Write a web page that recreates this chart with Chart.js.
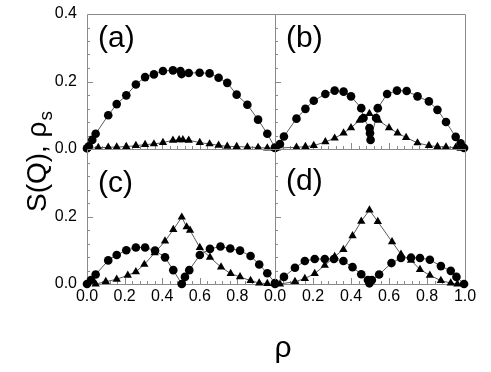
<!DOCTYPE html>
<html lang="en">
<head>
<meta charset="UTF-8">
<title>S(Q) and rho_s versus rho</title>
<script src="https://cdn.jsdelivr.net/npm/chart.js"></script>
<style>
  html, body { margin: 0; padding: 0; background: #fff; }
  #wrap { position: relative; width: 491px; height: 372px; }
  #wrap canvas { position: absolute; left: 0; top: 0; }
</style>
</head>
<body>
<div id="wrap">
  <canvas id="panelA" width="491" height="372"></canvas>
  <canvas id="panelB" width="491" height="372"></canvas>
  <canvas id="panelC" width="491" height="372"></canvas>
  <canvas id="panelD" width="491" height="372"></canvas>
</div>
<script>
// ---- data ----
// panel (a)
var aRhoC = [0, 0.01, 0.028, 0.046, 0.113, 0.158, 0.209, 0.26, 0.309, 0.356, 0.404, 0.457, 0.497, 0.503, 0.541, 0.599, 0.652, 0.70, 0.746, 0.796, 0.853, 0.91, 0.959, 1.0];
var aSQ   = [0.002, 0.008, 0.027, 0.045, 0.10, 0.133, 0.159, 0.191, 0.213, 0.221, 0.231, 0.233, 0.231, 0.222, 0.225, 0.226, 0.224, 0.211, 0.196, 0.161, 0.131, 0.087, 0.045, 0.004];
var aRhoT = [0, 0.06, 0.113, 0.158, 0.209, 0.26, 0.309, 0.356, 0.404, 0.457, 0.49, 0.51, 0.541, 0.6, 0.652, 0.70, 0.746, 0.796, 0.853, 0.91, 0.959, 1.0];
var aRs   = [0.002, 0.004, 0.005, 0.006, 0.007, 0.01, 0.013, 0.015, 0.019, 0.026, 0.027, 0.027, 0.026, 0.019, 0.015, 0.011, 0.008, 0.007, 0.006, 0.004, 0.003, 0.002];
// panel (b)
var bRhoC = [0, 0.026, 0.047, 0.113, 0.16, 0.204, 0.265, 0.314, 0.361, 0.40, 0.454, 0.466, 0.497, 0.5, 0.503, 0.532, 0.541, 0.59, 0.642, 0.693, 0.75, 0.81, 0.855, 0.90, 0.951, 0.977, 0.995];
var bSQ   = [0.003, 0.015, 0.037, 0.09, 0.119, 0.143, 0.163, 0.173, 0.17, 0.156, 0.121, 0.092, 0.062, 0.047, 0.027, 0.092, 0.121, 0.163, 0.173, 0.172, 0.156, 0.141, 0.116, 0.08, 0.036, 0.017, 0.003];
var bRhoT = [0.009, 0.113, 0.16, 0.204, 0.265, 0.314, 0.361, 0.40, 0.445, 0.497, 0.545, 0.60, 0.645, 0.69, 0.75, 0.81, 0.855, 0.90, 0.951, 0.977];
var bRs   = [0.003, 0.005, 0.007, 0.01, 0.021, 0.032, 0.047, 0.063, 0.085, 0.105, 0.085, 0.063, 0.047, 0.034, 0.018, 0.01, 0.007, 0.006, 0.004, 0.002];
// panel (c)
var cRhoC = [0, 0.021, 0.046, 0.113, 0.158, 0.209, 0.26, 0.309, 0.362, 0.415, 0.459, 0.504, 0.521, 0.544, 0.60, 0.654, 0.710, 0.762, 0.814, 0.87, 0.916, 0.959, 1.0];
var cSQ   = [0.0, 0.012, 0.028, 0.07, 0.086, 0.10, 0.108, 0.108, 0.099, 0.079, 0.041, 0.0, 0.021, 0.041, 0.086, 0.104, 0.111, 0.105, 0.099, 0.083, 0.058, 0.032, 0.003];
var cRhoT = [0.046, 0.10, 0.158, 0.217, 0.26, 0.305, 0.36, 0.415, 0.459, 0.504, 0.53, 0.548, 0.60, 0.654, 0.713, 0.764, 0.814, 0.87, 0.916, 0.959];
var cRs   = [0.0, 0.007, 0.014, 0.026, 0.036, 0.058, 0.092, 0.127, 0.161, 0.198, 0.169, 0.159, 0.108, 0.079, 0.05, 0.031, 0.021, 0.01, 0.003, 0.001];
// panel (d)
var dRhoC = [0, 0.047, 0.105, 0.157, 0.209, 0.262, 0.31, 0.36, 0.408, 0.454, 0.489, 0.497, 0.51, 0.548, 0.613, 0.663, 0.716, 0.763, 0.815, 0.873, 0.925, 0.955, 0.995];
var dSQ   = [0.0, 0.021, 0.048, 0.068, 0.074, 0.074, 0.074, 0.068, 0.05, 0.029, 0.012, 0.002, 0.012, 0.028, 0.062, 0.077, 0.078, 0.077, 0.072, 0.053, 0.039, 0.021, 0.0];
var dRhoT = [0.026, 0.105, 0.157, 0.209, 0.262, 0.314, 0.36, 0.408, 0.454, 0.497, 0.541, 0.616, 0.663, 0.716, 0.763, 0.815, 0.873, 0.925, 0.96];
var dRs   = [0.0, 0.007, 0.016, 0.031, 0.055, 0.081, 0.102, 0.143, 0.186, 0.219, 0.185, 0.125, 0.088, 0.07, 0.043, 0.026, 0.01, 0.003, 0.0];

// tick labels
var xTickLabels = ['0.0', '0.2', '0.4', '0.6', '0.8', '1.0'];
var yTickLabels = ['0.0', '0.2', '0.4'];

var FONT = "'Liberation Sans', Arial, Helvetica, sans-serif";
var MINOR = 0.04; // minor tick spacing on both axes

function pts(xs, ys) {
    return xs.map(function (x, i) { return { x: x, y: ys[i] }; });
}

// frame plus inward tick marks, drawn under the markers
var frameTicks = {
    id: 'frameTicks',
    beforeDatasetsDraw: function (chart) {
        var ctx = chart.ctx, a = chart.chartArea;
        var xs = chart.scales.x, ys = chart.scales.y;
        ctx.save();
        ctx.strokeStyle = '#8a8a8a';
        ctx.lineWidth = 1;
        ctx.beginPath();
        ctx.rect(Math.round(a.left) + 0.5, Math.round(a.top) + 0.5,
                 Math.round(a.right - a.left), Math.round(a.bottom - a.top));
        var i, p, len;
        var nx = Math.round((xs.max - xs.min) / MINOR), ny = Math.round((ys.max - ys.min) / MINOR);
        for (i = 1; i < nx; i++) {
            p = Math.round(xs.getPixelForValue(xs.min + i * MINOR)) + 0.5;
            len = (i % 5 === 0) ? 6 : 3;
            ctx.moveTo(p, Math.round(a.bottom));
            ctx.lineTo(p, Math.round(a.bottom) - len);
        }
        for (i = 1; i < ny; i++) {
            p = Math.round(ys.getPixelForValue(ys.min + i * MINOR)) + 0.5;
            len = (i % 5 === 0) ? 6 : 3;
            ctx.moveTo(Math.round(a.left), p);
            ctx.lineTo(Math.round(a.left) + len, p);
        }
        ctx.stroke();
        ctx.restore();
    }
};

// "(a)" .. "(d)" inside each panel
var panelTag = {
    id: 'panelTag',
    afterDraw: function (chart, args, opts) {
        if (!opts.text) return;
        var ctx = chart.ctx, a = chart.chartArea;
        ctx.save();
        ctx.fillStyle = '#000';
        ctx.font = '30px ' + FONT;
        ctx.textBaseline = 'alphabetic';
        ctx.fillText(opts.text, a.left + opts.dx, a.top + opts.dy);
        ctx.restore();
    }
};

// shared axis titles, drawn once
var axisTitles = {
    id: 'axisTitles',
    afterDraw: function (chart, args, opts) {
        if (!opts.on) return;
        var ctx = chart.ctx;
        ctx.save();
        ctx.fillStyle = '#000';
        ctx.textBaseline = 'alphabetic';
        ctx.save();
        ctx.translate(opts.yx, opts.yy);
        ctx.rotate(-Math.PI / 2);
        ctx.font = '28px ' + FONT;
        var main = 'S(Q), \u03c1';
        var w1 = ctx.measureText(main).width;
        ctx.font = '19px ' + FONT;
        var w2 = ctx.measureText('s').width;
        var x0 = -(w1 + w2) / 2;
        ctx.font = '28px ' + FONT;
        ctx.fillText(main, x0, 0);
        ctx.font = '19px ' + FONT;
        ctx.fillText('s', x0 + w1 + 1, 6);
        ctx.restore();
        ctx.font = '30px ' + FONT;
        ctx.textAlign = 'center';
        ctx.fillText('\u03c1', opts.xx, opts.xy);
        ctx.restore();
    }
};

function makePanel(id, area, o) {
    var yW = o.showY ? 60 : 0;
    var xH = o.showX ? 30 : 0;
    return new Chart(document.getElementById(id), {
        type: 'line',
        data: {
            datasets: [{
                label: 'S(Q)',
                data: pts(o.rc, o.sq),
                pointStyle: 'circle',
                pointRadius: 4.3,
                pointBorderWidth: 0,
                pointBackgroundColor: '#000',
                borderColor: '#5a5a5a',
                borderWidth: 1,
                clip: false
            }, {
                label: 'rho_s',
                data: pts(o.rt, o.rs),
                pointStyle: 'triangle',
                pointRadius: 4.8,
                pointBorderWidth: 0,
                pointBackgroundColor: '#000',
                borderColor: '#5a5a5a',
                borderWidth: 1,
                clip: false
            }]
        },
        options: {
            responsive: false,
            animation: false,
            events: [],
            layout: {
                padding: {
                    left: area.x0 - yW,
                    right: 491 - area.x1,
                    top: area.y0,
                    bottom: 372 - area.y1 - xH
                }
            },
            plugins: {
                legend: { display: false },
                tooltip: { enabled: false },
                panelTag: { text: o.tag, dx: 11, dy: o.tagDy },
                axisTitles: { on: !!o.titles, yx: 46, yy: 162, xx: 283, xy: 357 }
            },
            scales: {
                x: {
                    type: 'linear',
                    min: 0, max: 1,
                    grid: { display: false, drawTicks: false },
                    border: { display: false },
                    ticks: {
                        display: o.showX,
                        stepSize: 0.2,
                        padding: 3,
                        color: '#000',
                        font: { family: FONT, size: 16 },
                        maxRotation: 0,
                        autoSkip: false,
                        callback: function (v) {
                            var i = Math.round(v / 0.2);
                            return i < o.xLabelCount ? xTickLabels[i] : '';
                        }
                    },
                    afterFit: function (s) { s.height = xH; s.paddingLeft = 0; s.paddingRight = 0; }
                },
                y: {
                    type: 'linear',
                    min: 0, max: 0.4,
                    grid: { display: false, drawTicks: false },
                    border: { display: false },
                    ticks: {
                        display: o.showY,
                        stepSize: 0.2,
                        padding: 10,
                        color: '#000',
                        font: { family: FONT, size: 16 },
                        callback: function (v) {
                            var i = Math.round(v / 0.2);
                            return i < o.yLabelCount ? yTickLabels[i] : '';
                        }
                    },
                    afterFit: function (s) { s.width = yW; s.paddingTop = 0; s.paddingBottom = 0; }
                }
            }
        },
        plugins: [frameTicks, panelTag, axisTitles]
    });
}

// panel edges in page pixels
var edgeL = 87, edgeM = 275, edgeR = 465, edgeT = 14, edgeMid = 149, edgeB = 284;

makePanel('panelA', { x0: edgeL, x1: edgeM, y0: edgeT, y1: edgeMid },
    { rc: aRhoC, sq: aSQ, rt: aRhoT, rs: aRs, tag: '(a)', tagDy: 33, showX: false, showY: true, xLabelCount: 0, yLabelCount: 3 });
makePanel('panelB', { x0: edgeM, x1: edgeR, y0: edgeT, y1: edgeMid },
    { rc: bRhoC, sq: bSQ, rt: bRhoT, rs: bRs, tag: '(b)', tagDy: 33, showX: false, showY: false, xLabelCount: 0, yLabelCount: 0 });
makePanel('panelC', { x0: edgeL, x1: edgeM, y0: edgeMid, y1: edgeB },
    { rc: cRhoC, sq: cSQ, rt: cRhoT, rs: cRs, tag: '(c)', tagDy: 43, showX: true, showY: true, xLabelCount: 5, yLabelCount: 2 });
makePanel('panelD', { x0: edgeM, x1: edgeR, y0: edgeMid, y1: edgeB },
    { rc: dRhoC, sq: dSQ, rt: dRhoT, rs: dRs, tag: '(d)', tagDy: 41, showX: true, showY: false, xLabelCount: 6, yLabelCount: 0, titles: true });
</script>
</body>
</html>
